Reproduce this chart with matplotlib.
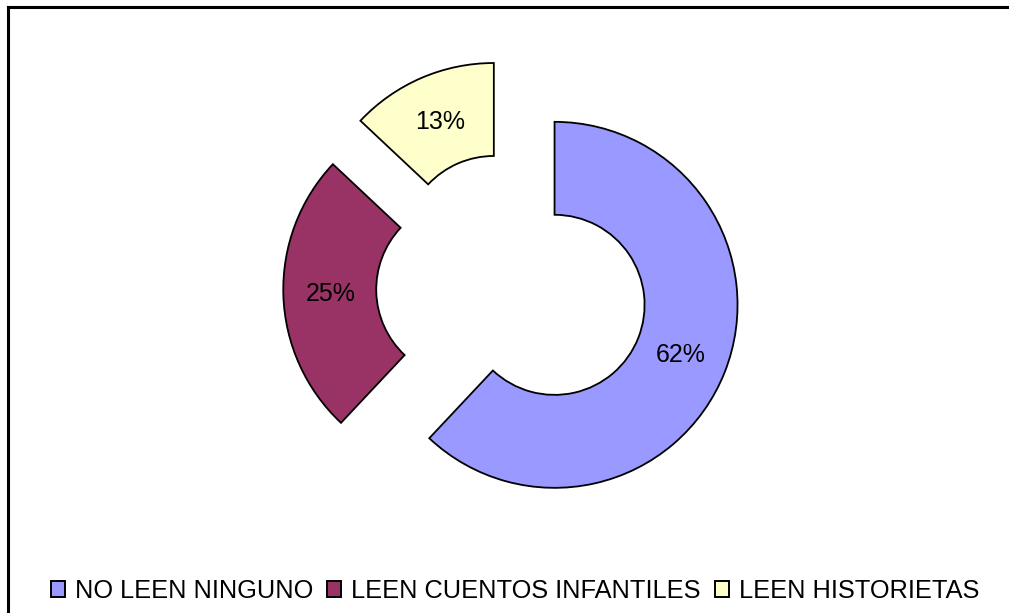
import matplotlib
matplotlib.use("Agg")
import matplotlib.pyplot as plt
from matplotlib.lines import Line2D
from matplotlib.patches import Patch

categories = ["NO LEEN NINGUNO", "LEEN CUENTOS INFANTILES", "LEEN HISTORIETAS"]
values = [62, 25, 13]
colors = ["#9999FF", "#993366", "#FFFFCC"]

plt.rcParams['font.family'] = ['Liberation Sans', 'DejaVu Sans']

W, H = 1009, 613
fig = plt.figure(figsize=(W / 100, H / 100), dpi=100)
ax = fig.add_axes([0, 0, 1, 1])

wedges, texts, autotexts = ax.pie(
    values, colors=colors, explode=[0.25] * len(values),
    startangle=90, counterclock=False,
    autopct='%1.0f%%', pctdistance=0.74,
    wedgeprops=dict(width=0.508, edgecolor='black', linewidth=1.3),
    textprops=dict(fontsize=18, color='black'),
)

# pixel mapping: centre at (512, 288) px, radius 183 px
scale = 183.0
cx, cy = 512.0, 288.0
ax.set_xlim(-cx / scale, (W - cx) / scale)
ax.set_ylim(-(H - cy) / scale, cy / scale)
ax.set_aspect('auto')
ax.axis('off')

# chart border (partially cropped)
fig.add_artist(Line2D([8 / W, 1.02], [1 - 7 / H, 1 - 7 / H], color='black', lw=2.2))
fig.add_artist(Line2D([8 / W, 8 / W], [-0.02, 1 - 7 / H], color='black', lw=2.2))

handles = [Patch(facecolor=c, edgecolor='black', linewidth=1.4) for c in colors]
fig.legend(handles, categories, loc='center', ncol=3,
           bbox_to_anchor=(515 / W, 1 - 591 / H), frameon=False,
           fontsize=18.3, handlelength=0.55, handleheight=0.6,
           handletextpad=0.4, columnspacing=0.55, borderpad=0, borderaxespad=0)

fig.savefig("out.png", dpi=100, facecolor='white')
